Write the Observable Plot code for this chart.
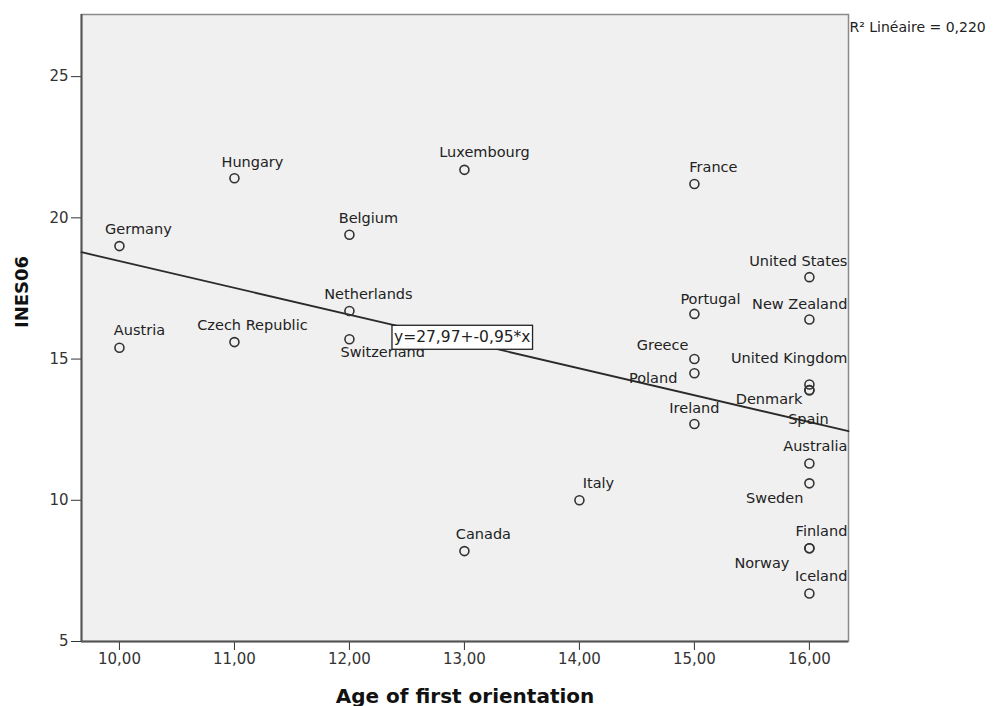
<!DOCTYPE html>
<html>
<head>
<meta charset="utf-8">
<script src="https://cdn.jsdelivr.net/npm/d3@7"></script>
<script src="https://cdn.jsdelivr.net/npm/@observablehq/plot@0.6"></script>
<style>
  html, body { margin: 0; padding: 0; background: #fff; }
  #chart { width: 1002px; height: 706px; }
</style>
</head>
<body>
<div id="chart"></div>
<script>
// ---- Data ----
const countries = ["Germany","Austria","Hungary","Czech Republic","Belgium","Netherlands","Switzerland",
  "Luxembourg","Canada","Italy","France","Portugal","Greece","Poland","Ireland",
  "United States","New Zealand","United Kingdom","Denmark","Spain","Australia","Sweden","Finland","Norway","Iceland"];
const ageFirstOrientation = [10,10,11,11,12,12,12,13,13,14,15,15,15,15,15,16,16,16,16,16,16,16,16,16,16];
const ines06 = [19.0,15.4,21.4,15.6,19.4,16.7,15.7,21.7,8.2,10.0,21.2,16.6,15.0,14.5,12.7,17.9,16.4,14.1,13.9,13.9,11.3,10.6,8.3,8.3,6.7];
const xTicks = [10,11,12,13,14,15,16];
const yTicks = [5,10,15,20,25];
const fitIntercept = 27.97;
const fitSlope = -0.95;
const rSquared = 0.220;

// ---- Layout / style (label placement relative to each point, in pixels) ----
const labelPlacement = {
  "Germany": ["middle", 19, -17], "Austria": ["middle", 20, -17], "Hungary": ["middle", 18, -16],
  "Czech Republic": ["middle", 18, -17], "Belgium": ["middle", 19, -16], "Netherlands": ["middle", 19, -17],
  "Switzerland": ["start", -9, 13], "Luxembourg": ["middle", 20, -17], "Canada": ["middle", 19, -17],
  "Italy": ["middle", 19, -17], "France": ["middle", 19, -17], "Portugal": ["middle", 16, -15],
  "Greece": ["end", -6, -14], "Poland": ["end", -17, 5], "Ireland": ["middle", 0, -16],
  "United States": ["end", 38, -16], "New Zealand": ["end", 38, -15], "United Kingdom": ["end", 38, -26],
  "Denmark": ["end", -7, 9], "Spain": ["middle", -1, 29], "Australia": ["end", 38, -17],
  "Sweden": ["end", -6, 15], "Finland": ["end", 38, -17], "Norway": ["end", -20, 15], "Iceland": ["end", 38, -17]
};
const xDomain = [9.67, 16.34];
const yDomain = [5, 27.2];
const eqAnchor = {x: 12.37, y: 15.77};

const comma = (d, n) => d.toFixed(n).replace(".", ",");

const rows = countries.map((c, i) => ({
  country: c, x: ageFirstOrientation[i], y: ines06[i],
  anchor: labelPlacement[c][0], dx: labelPlacement[c][1], dy: labelPlacement[c][2]
}));
const fitLine = xDomain.map(x => ({x, y: fitIntercept + fitSlope * x}));

const labelMarks = ["start","middle","end"].flatMap(a => {
  const sub = rows.filter(r => r.anchor === a);
  const groups = d3.groups(sub, r => r.dx + "," + r.dy);
  return groups.map(([k, g]) => Plot.text(g, {
    x: "x", y: "y", text: "country", textAnchor: a, lineAnchor: "middle",
    dx: g[0].dx, dy: g[0].dy, fontSize: 14.5, fill: "#222"
  }));
});

const eqText = "y=" + comma(fitIntercept, 2) + "+" + comma(fitSlope, 2) + "*x";

const plot = Plot.plot({
  width: 1002,
  height: 706,
  marginLeft: 81,
  marginRight: 154,
  marginTop: 14,
  marginBottom: 65,
  style: {fontFamily: "'DejaVu Sans', sans-serif", fontSize: "15px", background: "#fff", overflow: "visible"},
  x: {domain: xDomain, ticks: xTicks, tickFormat: d => comma(d, 2)},
  y: {domain: yDomain, ticks: yTicks, tickFormat: d => String(d)},
  marks: [
    Plot.frame({fill: "#f0f0f0", stroke: "#8a8a8a", strokeWidth: 1.5}),
    Plot.axisX({ticks: xTicks, tickFormat: d => comma(d, 2), tickSize: 9, tickPadding: 3, label: null, color: "#333", fontSize: 15}),
    Plot.axisY({ticks: yTicks, tickSize: 10, tickPadding: 3, label: null, color: "#333", fontSize: 15}),
    Plot.ruleX([xDomain[0]], {stroke: "#555", strokeWidth: 2}),
    Plot.ruleY([yDomain[0]], {stroke: "#555", strokeWidth: 2}),
    Plot.line(fitLine, {x: "x", y: "y", stroke: "#2a2a2a", strokeWidth: 1.8}),
    Plot.dot(rows, {x: "x", y: "y", r: 4.5, stroke: "#333", strokeWidth: 1.6, fill: "none"}),
    ...labelMarks,
    Plot.text(["Age of first orientation"], {frameAnchor: "bottom", dy: 55, fontSize: 20, fontWeight: "bold", fill: "#111", lineAnchor: "middle"}),
    Plot.text(["INES06"], {frameAnchor: "left", dx: -59, rotate: -90, fontSize: 18, fontWeight: "bold", fill: "#111", lineAnchor: "middle"}),
    Plot.text(["R² Linéaire = " + comma(rSquared, 3)], {frameAnchor: "top-right", textAnchor: "start", dx: 1, dy: 13, lineAnchor: "middle", fontSize: 14, fill: "#222"}),
    Plot.text([eqText], {x: () => eqAnchor.x, y: () => eqAnchor.y, textAnchor: "start", lineAnchor: "middle", dx: 2, fontSize: 15.5, fill: "#222", className: "eq-label"})
  ]
});
document.getElementById("chart").appendChild(plot);

// white box behind the regression equation
const eqG = plot.querySelector(".eq-label");
if (eqG) {
  const t = eqG.querySelector("text");
  const bb = t.getBBox();
  const rect = document.createElementNS("http://www.w3.org/2000/svg", "rect");
  rect.setAttribute("x", bb.x - 2);
  rect.setAttribute("y", bb.y - 3);
  rect.setAttribute("width", bb.width + 4);
  rect.setAttribute("height", bb.height + 6);
  rect.setAttribute("fill", "#fff");
  rect.setAttribute("stroke", "#222");
  rect.setAttribute("stroke-width", "1.3");
  const tr = t.getAttribute("transform");
  if (tr) rect.setAttribute("transform", tr);
  eqG.insertBefore(rect, t);
}
</script>
</body>
</html>
